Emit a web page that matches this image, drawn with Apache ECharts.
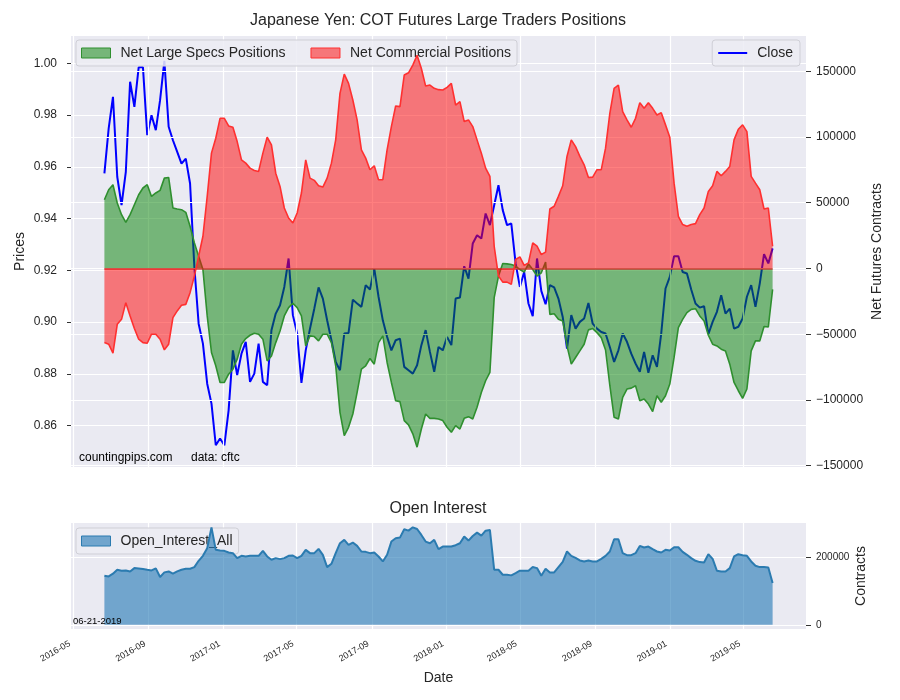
<!DOCTYPE html>
<html>
<head>
<meta charset="utf-8">
<title>Japanese Yen: COT Futures Large Traders Positions</title>
<script src="https://cdn.jsdelivr.net/npm/echarts@6.0.0/dist/echarts.min.js"></script>
<style>
  html, body { margin: 0; padding: 0; background: #fff; }
  #main { width: 900px; height: 700px; }
</style>
</head>
<body>
<div id="main"></div>
<script>
// weekly COT report dates, 2016-06-21 .. 2019-06-18
var firstReport = [2016, 5, 21];
var weeks = 157;

// Net large speculator positions (contracts)
var specs = [52300, 59900, 63700, 49800, 40900, 35100, 40900, 48500, 56100, 61200,
  63700, 54800, 57400, 59400, 68700, 69200, 46000, 45200, 44700, 42700,
  32100, 19500, 9300, -800, -36100, -63900, -74000, -86700, -86700, -80400,
  -76600, -69000, -57600, -53300, -50800, -49300, -50000, -53800, -70300, -66500,
  -56400, -47500, -36100, -29800, -26500, -29800, -36100, -58900, -51300, -51800,
  -55100, -50000, -50000, -56400, -74000, -109400, -127100, -120800, -110700, -94300,
  -76600, -74000, -68500, -72800, -56400, -51300, -71500, -86700, -100600, -101300,
  -115700, -119000, -125800, -135900, -122100, -110700, -114000, -114000, -114500, -115700,
  -120800, -124600, -119500, -122100, -114000, -112700, -114500, -105600, -94300, -85400,
  -79100, -22200, -5800, 3800, 3500, 3000, 1800, -800, -2800, 3500,
  -800, -5800, -3300, 4800, -34900, -34400, -38700, -39900, -58900, -72800,
  -67700, -62700, -57600, -46700, -45700, -48800, -52600, -62000, -89000, -113200,
  -114500, -98000, -91700, -91000, -89200, -100600, -99300, -103100, -108900, -96800,
  -101800, -96800, -87900, -67700, -45000, -38700, -33600, -31100, -30600, -36100,
  -39900, -50800, -57600, -58900, -61400, -62700, -72800, -86700, -93000, -98800,
  -91700, -62700, -55100, -55100, -44200, -44500, -15900];

// Net commercial positions (contracts)
var commercial = [-56400, -57600, -64400, -42500, -38700, -26000, -36100, -45700, -53800, -56400,
  -56900, -50000, -50000, -53800, -61900, -57600, -37400, -32300, -28000, -27300,
  -18400, -5800, 9300, 24500, 54800, 87700, 99100, 114200, 114200, 108400,
  107400, 96500, 82600, 80100, 76300, 74500, 73800, 87700, 99800, 94000,
  72500, 62400, 46000, 38400, 34600, 42200, 57400, 82600, 68700, 67000,
  62900, 61900, 68700, 80100, 97800, 133200, 147800, 140800, 128100, 113000,
  90200, 83900, 75100, 78100, 67500, 67500, 90200, 107900, 123600, 123100,
  147100, 148800, 154700, 162200, 152100, 138700, 139500, 137000, 136000, 135700,
  137700, 140800, 124300, 126900, 111700, 113000, 107900, 97800, 87700, 76300,
  70000, 16900, -5800, -10400, -10400, -12100, 6800, 8800, 2300, 4300,
  19500, 16900, 10600, 12400, 45200, 47300, 54800, 62900, 85200, 97800,
  92700, 85200, 78800, 69200, 69500, 75100, 75100, 91500, 118000, 137000,
  139500, 119300, 113000, 107400, 114200, 126100, 121800, 126100, 121800, 116700,
  118500, 109200, 99800, 64900, 39700, 33400, 32100, 33400, 34100, 40900,
  46000, 58600, 62900, 73800, 70500, 73800, 77600, 97800, 105900, 109200,
  104100, 70000, 64900, 59900, 45200, 46000, 16900];

// JPY futures close price
var close = [0.9575, 0.9749, 0.9871, 0.9562, 0.9452, 0.9581, 0.9929, 0.9832, 0.9985, 0.9985,
  0.9723, 0.9800, 0.9742, 0.9858, 1.0010, 0.9755, 0.9703, 0.9658, 0.9613, 0.9632,
  0.9536, 0.9214, 0.8994, 0.8917, 0.8762, 0.8685, 0.8524, 0.8550, 0.8524, 0.8659,
  0.8891, 0.8795, 0.8878, 0.8924, 0.8769, 0.8801, 0.8917, 0.8769, 0.8756, 0.8969,
  0.9033, 0.9065, 0.9136, 0.9246, 0.9027, 0.8956, 0.8765, 0.8891, 0.8975, 0.9052,
  0.9134, 0.9091, 0.9007, 0.8930, 0.8846, 0.8814, 0.8956, 0.8958, 0.9087, 0.9072,
  0.9059, 0.9143, 0.9126, 0.9207, 0.9098, 0.9007, 0.8943, 0.8891, 0.8930, 0.8936,
  0.8827, 0.8814, 0.8801, 0.8833, 0.8911, 0.8969, 0.8885, 0.8808, 0.8904, 0.8891,
  0.8943, 0.8911, 0.9091, 0.9095, 0.9216, 0.9168, 0.9304, 0.9336, 0.9323, 0.9420,
  0.9375, 0.9452, 0.9529, 0.9433, 0.9375, 0.9381, 0.9227, 0.9136, 0.9194, 0.9072,
  0.9023, 0.9246, 0.9121, 0.9069, 0.9143, 0.9134, 0.9091, 0.9020, 0.8898, 0.9027,
  0.8975, 0.9001, 0.9014, 0.9074, 0.8994, 0.8975, 0.8962, 0.8956, 0.8904, 0.8846,
  0.8891, 0.8956, 0.8924, 0.8878, 0.8840, 0.8808, 0.8885, 0.8804, 0.8872, 0.8827,
  0.8956, 0.9130, 0.9175, 0.9255, 0.9255, 0.9194, 0.9188, 0.9126, 0.9072, 0.9056,
  0.9062, 0.8953, 0.9001, 0.9040, 0.9104, 0.9033, 0.9052, 0.8975, 0.8982, 0.9014,
  0.9098, 0.9143, 0.9059, 0.9149, 0.9263, 0.9227, 0.9285];

// Open interest, all (contracts)
var openInterest = [145100, 143100, 151000, 162700, 159800, 160800, 157800, 167600, 166700, 164700,
  162700, 160800, 166700, 141200, 154900, 157800, 151000, 157800, 162700, 165700,
  165700, 170600, 189200, 203900, 226500, 288200, 221600, 219600, 218600, 213700,
  211800, 197100, 203900, 202000, 203900, 203900, 203900, 218600, 202000, 192200,
  197100, 194100, 197100, 203900, 204900, 197100, 203900, 221600, 211800, 211800,
  224500, 206900, 170600, 180400, 211800, 241200, 251000, 236300, 243100, 233300,
  216700, 215700, 211800, 213700, 202000, 187300, 206900, 246100, 255900, 257800,
  282400, 278400, 288200, 283300, 265700, 246100, 241200, 251000, 223500, 231400,
  231400, 231400, 235300, 241200, 260800, 249000, 262700, 272500, 263700, 278400,
  280400, 162700, 162700, 148000, 148000, 146100, 152900, 159800, 159800, 159800,
  170600, 167600, 145100, 165700, 154900, 154900, 170600, 186300, 216700, 203900,
  198000, 190200, 187300, 190200, 187300, 187300, 195100, 203900, 216700, 252900,
  252900, 211800, 205900, 205900, 211800, 233300, 228400, 231400, 223500, 216700,
  213700, 221600, 219600, 229400, 229400, 215700, 206900, 197100, 189200, 185300,
  184300, 208800, 195100, 159800, 157800, 157800, 167600, 202000, 208800, 205900,
  203900, 187300, 174500, 170600, 170600, 169600, 123500];

// axis ticks
var monthTicks = ['2016-05', '2016-09', '2017-01', '2017-05', '2017-09', '2018-01', '2018-05', '2018-09', '2019-01', '2019-05'];
var priceTicks = [0.86, 0.88, 0.90, 0.92, 0.94, 0.96, 0.98, 1.00];
var netTicks = [-150000, -100000, -50000, 0, 50000, 100000, 150000];
var oiTicks = [0, 200000];

var FONT = '"Liberation Sans", Arial, sans-serif';
var TXT = '#262626';

var dates = [];
for (var i = 0; i < weeks; i++) {
  dates.push(new Date(firstReport[0], firstReport[1], firstReport[2] + 7 * i).getTime());
}
function pairs(vals) {
  var out = [];
  for (var i = 0; i < vals.length; i++) out.push([dates[i], vals[i]]);
  return out;
}
var monthValues = monthTicks.map(function(s) {
  var p = s.split('-');
  return new Date(+p[0], +p[1] - 1, 1).getTime();
});
function fmtMonth(v) {
  var d = new Date(v);
  return d.getFullYear() + '-' + ('0' + (d.getMonth() + 1)).slice(-2);
}
function fmtNet(v) {
  return v < 0 ? '\u2212' + (-v) : String(v);
}

var xMin = new Date(2016, 3, 27, 10).getTime();
var xMax = new Date(2019, 7, 11, 14).getTime();

var gridLine = { show: true, lineStyle: { color: '#ffffff', width: 1.2 } };

var myChart = echarts.init(document.getElementById('main'));
var option = {
  backgroundColor: '#ffffff',
  animation: false,
  textStyle: { fontFamily: FONT },
  grid: [
    { left: 71, right: 94, top: 36, height: 431, show: true, backgroundColor: '#eaeaf2', borderWidth: 0, outerBoundsMode: 'none' },
    { left: 71, right: 94, top: 523, height: 106, show: true, backgroundColor: '#eaeaf2', borderWidth: 0, outerBoundsMode: 'none' }
  ],
  xAxis: [{
    type: 'value', gridIndex: 0, min: xMin, max: xMax, z: 3,
    axisLine: { show: false }, axisTick: { show: false, customValues: monthValues },
    axisLabel: { show: false, customValues: monthValues },
    splitLine: gridLine
  }, {
    type: 'value', gridIndex: 1, min: xMin, max: xMax,
    name: 'Date', nameLocation: 'middle', nameGap: 42,
    nameTextStyle: { fontSize: 14, color: TXT, fontFamily: FONT },
    axisLine: { show: false }, axisTick: { show: false, customValues: monthValues },
    axisLabel: {
      customValues: monthValues, rotate: 30, margin: 12, padding: [0, 4, 0, 0],
      fontSize: 9, color: TXT, fontFamily: FONT, formatter: fmtMonth
    },
    splitLine: gridLine
  }],
  yAxis: [{
    type: 'value', gridIndex: 0, position: 'left', min: 0.8440, max: 1.0106,
    name: 'Prices', nameLocation: 'middle', nameGap: 44, nameMoveOverlap: false,
    nameTextStyle: { fontSize: 14, color: TXT, fontFamily: FONT },
    axisLine: { show: false },
    axisTick: { show: true, length: 4, customValues: priceTicks, lineStyle: { color: '#333' } },
    axisLabel: { customValues: priceTicks, fontSize: 12, color: TXT, fontFamily: FONT, margin: 14,
      formatter: function(v) { return v.toFixed(2); } },
    splitLine: gridLine
  }, {
    type: 'value', gridIndex: 0, position: 'right', min: -151000, max: 176800, z: 3,
    name: 'Net Futures Contracts', nameLocation: 'middle', nameGap: 64, nameMoveOverlap: false,
    nameTextStyle: { fontSize: 14, color: TXT, fontFamily: FONT },
    axisLine: { show: false },
    axisTick: { show: true, length: 5, customValues: netTicks, lineStyle: { color: '#333' } },
    axisLabel: { customValues: netTicks, fontSize: 12, color: TXT, fontFamily: FONT, margin: 10, formatter: fmtNet },
    splitLine: gridLine
  }, {
    type: 'value', gridIndex: 1, position: 'right', min: -12500, max: 301000,
    name: 'Contracts', nameLocation: 'middle', nameGap: 48, nameMoveOverlap: false,
    nameTextStyle: { fontSize: 14, color: TXT, fontFamily: FONT },
    axisLine: { show: false },
    axisTick: { show: true, length: 5, customValues: oiTicks, lineStyle: { color: '#333' } },
    axisLabel: { customValues: oiTicks, fontSize: 10, color: TXT, fontFamily: FONT, margin: 10,
      formatter: function(v) { return String(v); } },
    splitLine: gridLine
  }],
  legend: [{
    left: 76, top: 40, orient: 'horizontal',
    itemWidth: 29, itemHeight: 10, itemGap: 25,
    padding: [6, 6, 6, 5],
    backgroundColor: 'rgba(236,236,243,0.85)', borderColor: '#cfcfd6', borderWidth: 1, borderRadius: 3,
    textStyle: { fontSize: 14, color: TXT, fontFamily: FONT, padding: [0, 0, 0, 5] },
    data: [
      { name: 'Net Large Specs Positions', icon: 'rect',
        itemStyle: { color: 'rgba(0,128,0,0.5)', borderColor: '#2f8f2f', borderWidth: 1 } },
      { name: 'Net Commercial Positions', icon: 'rect',
        itemStyle: { color: 'rgba(255,0,0,0.5)', borderColor: '#ff3030', borderWidth: 1 } }
    ]
  }, {
    right: 100, top: 40,
    itemWidth: 29, itemHeight: 2,
    padding: [6, 7, 6, 6],
    backgroundColor: 'rgba(236,236,243,0.85)', borderColor: '#cfcfd6', borderWidth: 1, borderRadius: 3,
    textStyle: { fontSize: 14, color: TXT, fontFamily: FONT, padding: [0, 0, 0, 5] },
    data: [{ name: 'Close', icon: 'rect', itemStyle: { color: '#0000ff' } }]
  }, {
    left: 76, top: 528,
    itemWidth: 29, itemHeight: 10,
    padding: [6, 6, 6, 5],
    backgroundColor: 'rgba(236,236,243,0.85)', borderColor: '#cfcfd6', borderWidth: 1, borderRadius: 3,
    textStyle: { fontSize: 14, color: TXT, fontFamily: FONT, padding: [0, 0, 0, 5] },
    data: [{ name: 'Open_Interest_All', icon: 'rect',
      itemStyle: { color: 'rgba(31,119,180,0.6)', borderColor: '#2b7bb0', borderWidth: 1 } }]
  }],
  graphic: [
    { type: 'text', x: 438, y: 21, z: 100,
      style: { text: 'Japanese Yen: COT Futures Large Traders Positions', fontSize: 16, fill: TXT,
        fontFamily: FONT, align: 'center', verticalAlign: 'middle' } },
    { type: 'text', x: 438, y: 509, z: 100,
      style: { text: 'Open Interest', fontSize: 16, fill: TXT, fontFamily: FONT, align: 'center', verticalAlign: 'middle' } },
    { type: 'text', x: 79, y: 458, z: 100,
      style: { text: 'countingpips.com', fontSize: 12, fill: '#000', fontFamily: FONT, verticalAlign: 'middle' } },
    { type: 'text', x: 191, y: 458, z: 100,
      style: { text: 'data: cftc', fontSize: 12, fill: '#000', fontFamily: FONT, verticalAlign: 'middle' } },
    { type: 'text', x: 73, y: 621, z: 100,
      style: { text: '06-21-2019', fontSize: 9.5, fill: '#000', fontFamily: FONT, verticalAlign: 'middle' } }
  ],
  series: [{
    name: 'Close', type: 'line', xAxisIndex: 0, yAxisIndex: 0, z: 2,
    data: pairs(close), showSymbol: false, symbol: 'none',
    itemStyle: { color: '#0000ff' },
    lineStyle: { color: '#0000ff', width: 2 }
  }, {
    name: 'Net Large Specs Positions', type: 'line', xAxisIndex: 0, yAxisIndex: 1, z: 4,
    data: pairs(specs), showSymbol: false, symbol: 'none',
    itemStyle: { color: '#2f8f2f' },
    lineStyle: { color: '#2f8f2f', width: 1.6 },
    areaStyle: { color: 'rgb(0,128,0)', opacity: 0.5, origin: 0 }
  }, {
    name: 'Net Commercial Positions', type: 'line', xAxisIndex: 0, yAxisIndex: 1, z: 5,
    data: pairs(commercial), showSymbol: false, symbol: 'none',
    itemStyle: { color: '#ff3030' },
    lineStyle: { color: '#ff3030', width: 1.6 },
    areaStyle: { color: 'rgb(255,0,0)', opacity: 0.5, origin: 0 },
    markLine: {
      silent: true, symbol: 'none', label: { show: false },
      lineStyle: { color: 'rgba(205,45,40,0.85)', type: 'solid', width: 1.5 },
      data: [[{ coord: [dates[0], 0] }, { coord: [dates[weeks - 1], 0] }]]
    }
  }, {
    name: 'Open_Interest_All', type: 'line', xAxisIndex: 1, yAxisIndex: 2, z: 4,
    data: pairs(openInterest), showSymbol: false, symbol: 'none',
    itemStyle: { color: '#2b7bb0' },
    lineStyle: { color: '#2b7bb0', width: 2 },
    areaStyle: { color: 'rgb(31,119,180)', opacity: 0.6, origin: 0 }
  }]
};
myChart.setOption(option);
</script>
</body>
</html>
